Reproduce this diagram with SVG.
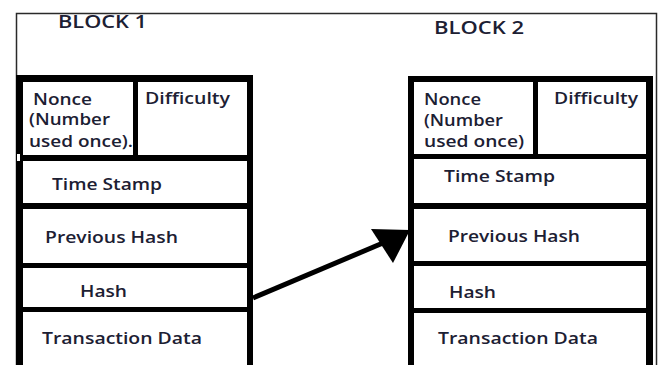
<svg xmlns="http://www.w3.org/2000/svg" width="662" height="365" viewBox="0 0 662 365">
  <style>
    .frame { fill: none; stroke: #2a2a2a; stroke-width: 1.5; }
    .wall { fill: #000; }
    .cell { fill: #fff; }
    .lbl { font-family: "Open Sans", "Liberation Sans", sans-serif; font-weight: 600; font-size: 16px; fill: #1c2033; }
    .title { font-family: "Open Sans", "Liberation Sans", sans-serif; font-weight: 600; font-size: 18px; fill: #1c2033; }
    .link { stroke: #000; stroke-width: 5; fill: none; }
  </style>
  <rect width="662" height="365" fill="#fff"/>

  <!-- outer page frame -->
  <path class="frame" d="M16.5,365 V13.5 H656.5 V365"/>

  <text class="title" x="58" y="28" textLength="89" lengthAdjust="spacingAndGlyphs">BLOCK 1</text>
  <text class="title" x="434" y="34" textLength="90" lengthAdjust="spacingAndGlyphs">BLOCK 2</text>

  <!-- first block -->
  <g id="block1">
    <rect class="wall" x="16" y="75" width="237" height="295"/>
    <rect class="cell" x="23" y="82" width="110" height="73"/>
    <rect class="cell" x="138" y="82" width="109" height="73"/>
    <rect class="cell" x="23" y="161" width="224" height="42"/>
    <rect class="cell" x="23" y="209" width="224" height="54"/>
    <rect class="cell" x="23" y="268" width="224" height="39"/>
    <rect class="cell" x="23" y="312" width="224" height="60"/>
    <rect class="cell" x="17" y="154" width="3" height="7"/>
    <text class="lbl" x="33" y="105" textLength="59" lengthAdjust="spacingAndGlyphs">Nonce</text>
    <text class="lbl" x="29" y="125" textLength="81" lengthAdjust="spacingAndGlyphs">(Number</text>
    <text class="lbl" x="29" y="147" textLength="104" lengthAdjust="spacingAndGlyphs">used once).</text>
    <text class="lbl" x="145" y="104" textLength="85" lengthAdjust="spacingAndGlyphs">Difficulty</text>
    <text class="lbl" x="52" y="190" textLength="110" lengthAdjust="spacingAndGlyphs">Time Stamp</text>
    <text class="lbl" x="45" y="243" textLength="133" lengthAdjust="spacingAndGlyphs">Previous Hash</text>
    <text class="lbl" x="80" y="297" textLength="47" lengthAdjust="spacingAndGlyphs">Hash</text>
    <text class="lbl" x="42" y="344" textLength="160" lengthAdjust="spacingAndGlyphs">Transaction Data</text>
  </g>

  <!-- second block -->
  <g id="block2">
    <rect class="wall" x="408" y="76" width="245" height="295"/>
    <rect class="cell" x="414" y="82" width="119" height="72"/>
    <rect class="cell" x="538" y="82" width="108" height="72"/>
    <rect class="cell" x="414" y="159" width="232" height="44"/>
    <rect class="cell" x="414" y="209" width="232" height="52"/>
    <rect class="cell" x="414" y="266" width="232" height="42"/>
    <rect class="cell" x="414" y="313" width="232" height="60"/>
    <text class="lbl" x="424" y="105" textLength="57" lengthAdjust="spacingAndGlyphs">Nonce</text>
    <text class="lbl" x="424" y="126" textLength="79" lengthAdjust="spacingAndGlyphs">(Number</text>
    <text class="lbl" x="424" y="147" textLength="100" lengthAdjust="spacingAndGlyphs">used once)</text>
    <text class="lbl" x="554" y="104" textLength="84" lengthAdjust="spacingAndGlyphs">Difficulty</text>
    <text class="lbl" x="444" y="182" textLength="111" lengthAdjust="spacingAndGlyphs">Time Stamp</text>
    <text class="lbl" x="448" y="242" textLength="132" lengthAdjust="spacingAndGlyphs">Previous Hash</text>
    <text class="lbl" x="449" y="298" textLength="47" lengthAdjust="spacingAndGlyphs">Hash</text>
    <text class="lbl" x="438" y="344" textLength="160" lengthAdjust="spacingAndGlyphs">Transaction Data</text>
  </g>

  <!-- hash of block 1 feeds previous hash of block 2 -->
  <g id="connectors">
    <line class="link" x1="253" y1="298" x2="390" y2="240"/>
    <polygon points="371,229 410,230 393,263" fill="#000"/>
  </g>
</svg>
